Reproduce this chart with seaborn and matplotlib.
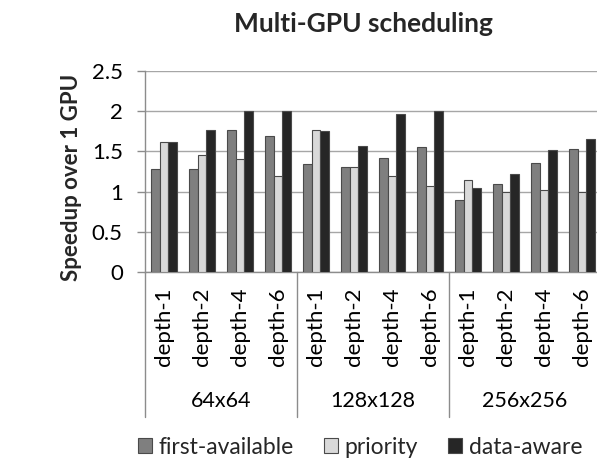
import matplotlib
matplotlib.use("Agg")
import matplotlib.pyplot as plt
import matplotlib.transforms as mtransforms
from matplotlib.patches import Patch
from matplotlib.lines import Line2D
import seaborn as sns
import pandas as pd

sizes = ["64x64", "128x128", "256x256"]
depths = ["depth-1", "depth-2", "depth-4", "depth-6"]
schedulers = ["first-available", "priority", "data-aware"]

first_available = [1.28, 1.28, 1.76, 1.69, 1.34, 1.31, 1.42, 1.55, 0.89, 1.10, 1.36, 1.53]
priority = [1.62, 1.45, 1.41, 1.20, 1.77, 1.30, 1.19, 1.07, 1.15, 1.00, 1.02, 1.00]
data_aware = [1.62, 1.76, 2.00, 2.00, 1.75, 1.57, 1.97, 2.00, 1.04, 1.22, 1.52, 1.65]

colors = ["#7f7f7f", "#d9d9d9", "#262626"]
edge = "#4a4a4a"

sns.set_theme(style="white")
plt.rcParams["font.family"] = ["Lato", "DejaVu Sans"]

cats = [f"{s}|{d}" for s in sizes for d in depths]
rows = []
for vals, name in zip([first_available, priority, data_aware], schedulers):
    for c, v in zip(cats, vals):
        rows.append({"cat": c, "scheduler": name, "value": v})
df = pd.DataFrame(rows)

W, H = 597, 462
fig = plt.figure(figsize=(W / 100, H / 100), dpi=100)
ax_w, ax_h = 456.0, 201.0
ax = fig.add_axes([145 / W, 1 - 272 / H, ax_w / W, ax_h / H])

sns.barplot(data=df, x="cat", y="value", hue="scheduler", order=cats,
            hue_order=schedulers, palette=colors, width=0.68,
            edgecolor=edge, linewidth=0.8, ax=ax, legend=False, zorder=3)

ax.set_xlim(-0.5, 11.5)
ax.set_ylim(0, 2.5)
ax.set_yticks([0, 0.5, 1, 1.5, 2, 2.5])
ax.set_yticklabels(["0", "0.5", "1", "1.5", "2", "2.5"])
ax.yaxis.grid(True, color="#a6a6a6", linewidth=1.0, zorder=0)
ax.set_axisbelow(True)

for side in ["top", "right"]:
    ax.spines[side].set_visible(False)
for side in ["left", "bottom"]:
    ax.spines[side].set_color("#8c8c8c")
    ax.spines[side].set_linewidth(1.0)

ax.tick_params(axis="y", which="both", left=True, length=6, width=1.0,
               color="#8c8c8c", pad=10, labelsize=16, labelcolor="black")
ax.set_xticks(range(len(cats)))
ax.set_xticklabels(depths * len(sizes), rotation=90)
ax.tick_params(axis="x", length=0, pad=11, labelsize=16, labelcolor="black")

ax.set_xlabel("")
ax.set_ylabel("Speedup over 1 GPU", fontsize=16, fontweight="bold")
ax.yaxis.set_label_coords((82 - 145) / ax_w, 0.47)

# group separators and labels
trans = mtransforms.blended_transform_factory(ax.transData, ax.transAxes)
for xs in [-0.5, 3.5, 7.5, 11.5]:
    ax.add_line(Line2D([xs, xs], [0, -145 / ax_h], transform=trans,
                       color="#8c8c8c", linewidth=1.0, clip_on=False))
for i, s in enumerate(sizes):
    ax.text(i * 4 + 1.5, -(401 - 272) / ax_h, s, transform=trans, ha="center",
            va="center", fontsize=15.5, color="black")

fig.text(363 / W, 1 - 24 / H, "Multi-GPU scheduling", ha="center",
         va="center", fontsize=19, fontweight="bold")

handles = [Patch(facecolor=c, edgecolor=edge, linewidth=0.8) for c in colors]
fig.legend(handles, schedulers, loc="center", bbox_to_anchor=(360 / W, 1 - 447 / H),
           ncol=3, frameon=False, fontsize=16.5, handlelength=0.62, handleheight=0.62,
           handletextpad=0.3, columnspacing=1.3, borderaxespad=0, borderpad=0)

fig.savefig("out.png", dpi=100)
